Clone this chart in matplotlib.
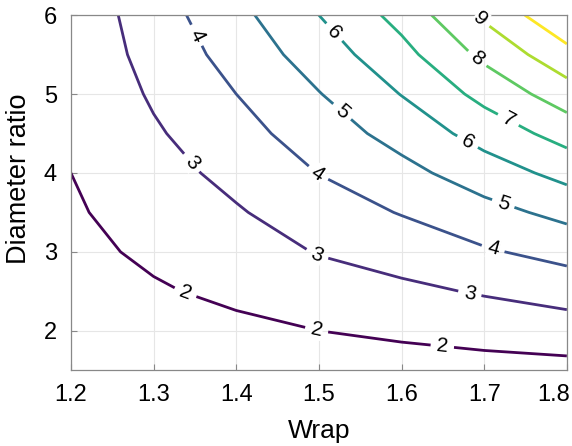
import matplotlib
matplotlib.use("Agg")
import matplotlib.pyplot as plt
import matplotlib.transforms as mtransforms
import numpy as np

# grid axes
wrap = [1.2, 1.3, 1.4, 1.5, 1.6, 1.7, 1.8]
diam_ratio = [1.5, 2.0, 2.5, 3.0, 3.5, 4.0, 4.5, 5.0, 5.5, 6.0]

# values, one row per diameter ratio
z_d15 = [1.45, 1.43, 1.42, 1.45, 1.58, 1.64, 1.70]
z_d20 = [1.55, 1.67, 1.81, 2.00, 2.17, 2.36, 2.53]
z_d25 = [1.66, 1.91, 2.18, 2.53, 2.79, 3.09, 3.41]
z_d30 = [1.775, 2.15, 2.55, 3.05, 3.42, 3.89, 4.33]
z_d35 = [1.89, 2.39, 2.91, 3.53, 4.05, 4.67, 5.28]
z_d40 = [2.00, 2.63, 3.28, 4.02, 4.70, 5.51, 6.31]
z_d45 = [2.08, 2.88, 3.64, 4.49, 5.36, 6.39, 7.40]
z_d50 = [2.15, 3.12, 4.00, 4.96, 6.03, 7.30, 8.53]
z_d55 = [2.22, 3.36, 4.36, 5.48, 6.68, 8.23, 9.68]
z_d60 = [2.29, 3.53, 4.71, 6.00, 7.33, 9.17, 10.86]

levels = [2, 3, 4, 5, 6, 7, 8, 9, 10]

Z = np.array([z_d15, z_d20, z_d25, z_d30, z_d35,
              z_d40, z_d45, z_d50, z_d55, z_d60])

# where the inline labels sit (data coords)
label_spots = [
    (1.338, 2.47), (1.497, 2.0), (1.649, 1.77),
    (1.344, 4.11), (1.498, 2.97), (1.682, 2.44),
    (1.353, 5.75), (1.498, 3.98), (1.710, 3.01),
    (1.525, 4.74), (1.722, 3.58),
    (1.515, 5.75), (1.678, 4.36),
    (1.728, 4.65),
    (1.690, 5.43),
    (1.694, 5.94),
]

plt.rcParams['font.family'] = ['Liberation Sans', 'DejaVu Sans']

fig = plt.figure(figsize=(5.72, 4.46), dpi=100)
ax = fig.add_axes([0.124, 0.170, 0.867, 0.796])

cs = ax.contour(wrap, diam_ratio, Z, levels=levels, cmap='viridis',
                vmin=2, vmax=10, linewidths=2.0)
lbls = ax.clabel(cs, levels=levels[:-1], manual=label_spots, inline=True,
                 inline_spacing=6, fontsize=15, fmt='%d', colors='black')
for t in lbls:
    t.set_clip_on(False)
    t.set_zorder(10)
    t.set_bbox(dict(fc='white', ec='none', pad=0.3))

ax.set_xlim(1.2, 1.8)
ax.set_ylim(1.5, 6)
ax.set_xticks(wrap)
ax.set_yticks([2, 3, 4, 5, 6])
ax.set_xticklabels(['1.2', '1.3', '1.4', '1.5', '1.6', '1.7', '1.8'])
ax.tick_params(direction='in', labelsize=17, color='#888888', length=4,
               pad=10)
ax.grid(True, color='#e6e6e6', linewidth=0.8, zorder=0)
ax.set_axisbelow(True)
for s in ax.spines.values():
    s.set_color('#888888')
    s.set_linewidth(0.9)

# last tick label nudged left so it stays inside the image
last = ax.get_xticklabels()[-1]
last.set_transform(last.get_transform() +
                   mtransforms.ScaledTranslation(-0.13, 0, fig.dpi_scale_trans))

ax.set_xlabel("Wrap", fontsize=19)
ax.set_ylabel("Diameter ratio", fontsize=19.5)
ax.xaxis.set_label_coords(0.5, -0.138)
ax.yaxis.set_label_coords(-0.078, 0.54)

fig.savefig("out.png", dpi=100)
